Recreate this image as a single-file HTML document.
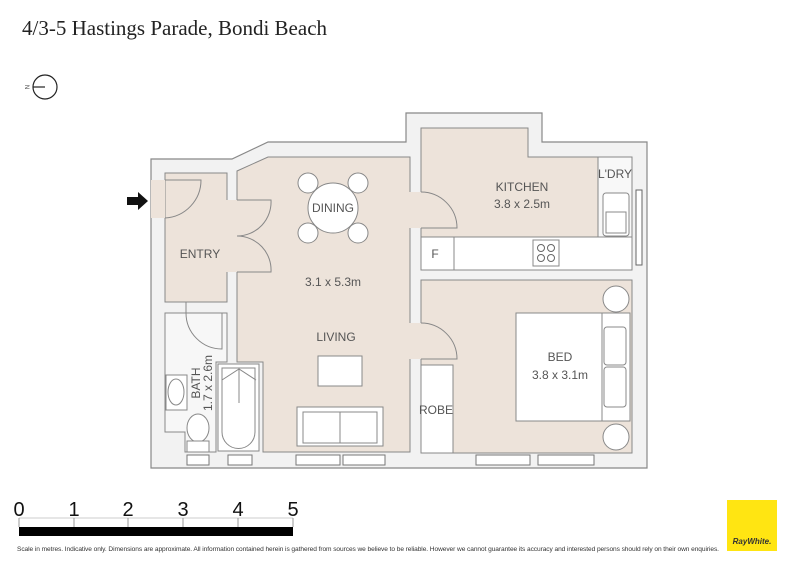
<!DOCTYPE html>
<html><head><meta charset="utf-8"><style>
html,body{margin:0;padding:0;background:#fff;width:800px;height:566px;overflow:hidden}
svg{display:block}
.t{font-family:"Liberation Sans",sans-serif;fill:#555;font-size:12px;text-anchor:middle}
</style></head><body>
<svg width="800" height="566" viewBox="0 0 800 566" xmlns="http://www.w3.org/2000/svg">
<text x="22" y="35" font-family="Liberation Serif,serif" font-size="21" fill="#222">4/3-5 Hastings Parade, Bondi Beach</text>
<circle cx="45" cy="87" r="12" fill="none" stroke="#222" stroke-width="1.2"/>
<line x1="33" y1="87" x2="45" y2="87" stroke="#222" stroke-width="1.2"/>
<text x="25" y="87" font-family="Liberation Sans,sans-serif" font-size="6" fill="#444" transform="rotate(90 25 87)" text-anchor="middle">N</text>

<!-- outer walls -->
<path d="M151,159 L232,159 L268,142 L406,142 L406,113 L542,113 L542,142 L647,142 L647,468 L151,468 Z" fill="#f2f2f2" stroke="#888" stroke-width="1.2"/>
<!-- living -->
<path d="M237,171 L268,157 L410,157 L410,452 L263,452 L263,362 L237,362 Z" fill="#ede3da" stroke="#888" stroke-width="1"/>
<!-- entry -->
<path d="M165,173 L227,173 L227,302 L165,302 Z" fill="#ede3da" stroke="#888"/>
<rect x="151" y="180" width="14" height="38" fill="#ede3da"/>
<rect x="226" y="200" width="12" height="72" fill="#ede3da"/>
<!-- bath -->
<path d="M165,313 L227,313 L227,362 L216,362 L216,452 L185,452 L185,432 L165,432 Z" fill="#f7f7f7" stroke="#888"/>
<!-- kitchen -->
<path d="M421,128 L528,128 L528,157 L632,157 L632,270 L421,270 Z" fill="#ede3da" stroke="#888"/>
<rect x="598" y="157" width="34" height="80" fill="#f8f8f8" stroke="#888"/>
<rect x="421" y="237" width="211" height="33" fill="#fff" stroke="#888"/>
<line x1="454" y1="237" x2="454" y2="270" stroke="#888"/>
<rect x="533" y="240" width="26" height="26" fill="#fff" stroke="#888"/>
<circle cx="541" cy="248" r="3.5" fill="none" stroke="#666"/><circle cx="551" cy="248" r="3.5" fill="none" stroke="#666"/>
<circle cx="541" cy="258" r="3.5" fill="none" stroke="#666"/><circle cx="551" cy="258" r="3.5" fill="none" stroke="#666"/>
<rect x="603" y="193" width="26" height="43" rx="3" fill="#fff" stroke="#888"/>
<rect x="606" y="212" width="20" height="21" fill="none" stroke="#888"/>
<rect x="636" y="190" width="6" height="75" fill="#fff" stroke="#666"/>
<!-- bed room -->
<rect x="421" y="280" width="211" height="173" fill="#ede3da" stroke="#888"/>
<rect x="421" y="365" width="32" height="88" fill="#fff" stroke="#888"/>
<rect x="516" y="313" width="114" height="108" fill="#fff" stroke="#888"/>
<line x1="602" y1="313" x2="602" y2="421" stroke="#888"/>
<rect x="604" y="327" width="22" height="38" rx="3" fill="#fff" stroke="#888"/>
<rect x="604" y="367" width="22" height="40" rx="3" fill="#fff" stroke="#888"/>
<circle cx="616" cy="299" r="13" fill="#fff" stroke="#888"/>
<circle cx="616" cy="437" r="13" fill="#fff" stroke="#888"/>
<!-- doors -->
<rect x="409" y="192" width="13" height="36" fill="#ede3da"/>
<path d="M421,192 A36,36 0 0 1 457,228 L421,228" fill="none" stroke="#888"/>
<rect x="409" y="323" width="13" height="36" fill="#ede3da"/>
<path d="M421,323 A36,36 0 0 1 457,359 L421,359" fill="none" stroke="#888"/>
<path d="M237,200 L271,200 A34,34 0 0 1 237,236 A34,34 0 0 1 271,272 L237,272" fill="none" stroke="#888"/>
<path d="M165,180 L201,180 A38,38 0 0 1 165,218" fill="none" stroke="#888"/>
<path d="M186,302 L186,313 M186,313 A36,36 0 0 0 222,349 L222,313" fill="none" stroke="#888"/>
<path d="M127,197 L138,197 L138,192 L148,201 L138,210 L138,205 L127,205 Z" fill="#111"/>
<!-- bath fixtures -->
<rect x="218" y="364" width="41" height="87" fill="#fff" stroke="#888"/>
<path d="M222,368 L255,368 L255,432 A16,16 0 0 1 222,432 Z" fill="none" stroke="#888"/>
<path d="M222,380 L239,369 L256,380 M239,369 L239,403" fill="none" stroke="#888"/>
<rect x="166" y="375" width="21" height="35" fill="#fff" stroke="#888"/>
<ellipse cx="176" cy="392" rx="8" ry="13" fill="none" stroke="#888"/>
<ellipse cx="198" cy="428" rx="11" ry="14" fill="#fff" stroke="#888"/>
<rect x="187" y="441" width="22" height="11" fill="#fff" stroke="#888"/>
<!-- dining -->
<g fill="#fff" stroke="#888">
<circle cx="308" cy="183" r="10"/><circle cx="358" cy="183" r="10"/>
<circle cx="308" cy="233" r="10"/><circle cx="358" cy="233" r="10"/>
<circle cx="333" cy="208" r="25"/>
<rect x="318" y="356" width="44" height="30"/>
<rect x="297" y="407" width="86" height="39"/>
<rect x="303" y="412" width="74" height="31"/>
</g>
<line x1="340" y1="412" x2="340" y2="443" stroke="#888"/>
<!-- windows -->
<g fill="#fff" stroke="#777">
<rect x="187" y="455" width="22" height="10"/><rect x="228" y="455" width="24" height="10"/>
<rect x="296" y="455" width="44" height="10"/><rect x="343" y="455" width="42" height="10"/>
<rect x="476" y="455" width="54" height="10"/><rect x="538" y="455" width="56" height="10"/>
</g>
<!-- labels -->
<text class="t" x="333" y="212" font-size="12">DINING</text>
<text class="t" x="200" y="258">ENTRY</text>
<text class="t" x="333" y="286">3.1 x 5.3m</text>
<text class="t" x="336" y="341">LIVING</text>
<text class="t" x="522" y="191">KITCHEN</text>
<text class="t" x="522" y="208">3.8 x 2.5m</text>
<text class="t" x="615" y="178" font-size="11">L'DRY</text>
<text class="t" x="435" y="258" font-size="11">F</text>
<text class="t" x="560" y="361">BED</text>
<text class="t" x="560" y="379">3.8 x 3.1m</text>
<text class="t" x="436" y="414" font-size="11">ROBE</text>
<text class="t" x="200" y="383" transform="rotate(-90 200 383)">BATH</text>
<text class="t" x="212" y="383" transform="rotate(-90 212 383)">1.7 x 2.6m</text>
<!-- scale -->
<rect x="19" y="527" width="274" height="9" fill="#000"/>
<line x1="19" y1="518" x2="293" y2="518" stroke="#ccc"/>
<g stroke="#999"><line x1="19" y1="518" x2="19" y2="527"/><line x1="74" y1="518" x2="74" y2="527"/><line x1="128" y1="518" x2="128" y2="527"/><line x1="183" y1="518" x2="183" y2="527"/><line x1="238" y1="518" x2="238" y2="527"/><line x1="293" y1="518" x2="293" y2="527"/></g>
<g font-family="Liberation Sans,sans-serif" font-size="20" fill="#111" text-anchor="middle">
<text x="19" y="516">0</text><text x="74" y="516">1</text><text x="128" y="516">2</text><text x="183" y="516">3</text><text x="238" y="516">4</text><text x="293" y="516">5</text></g>
<text x="17" y="551" font-family="Liberation Sans,sans-serif" font-size="6.6" fill="#333" textLength="702">Scale in metres. Indicative only. Dimensions are approximate. All information contained herein is gathered from sources we believe to be reliable. However we cannot guarantee its accuracy and interested persons should rely on their own enquiries.</text>
<rect x="727" y="500" width="50" height="51" fill="#ffe512"/>
<text x="752" y="544" font-family="Liberation Sans,sans-serif" font-size="8" font-weight="bold" font-style="italic" fill="#333" text-anchor="middle">RayWhite.</text>
</svg>
</body></html>
